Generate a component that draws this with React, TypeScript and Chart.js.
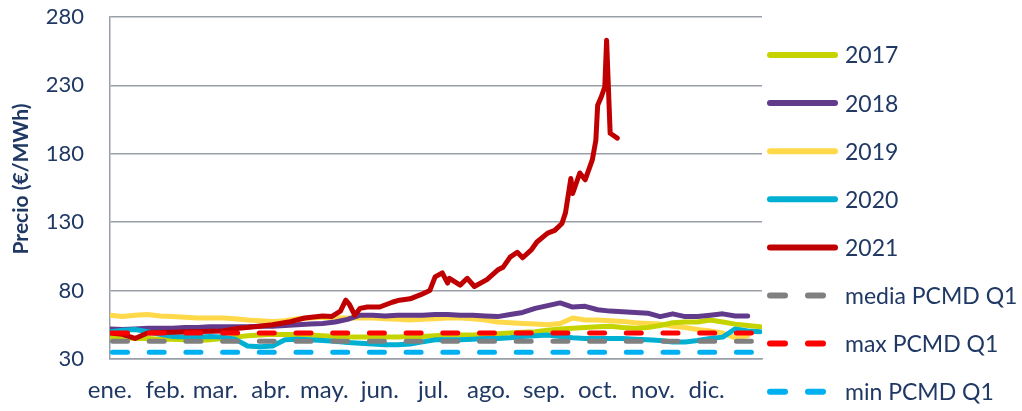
import React, { useEffect, useRef } from "react";
import { Chart, registerables } from "chart.js";

Chart.register(...registerables);

const monthStarts = [0, 31, 59, 90, 120, 151, 181, 212, 243, 273, 304, 334];
const monthLabels = ["ene.", "feb.", "mar.", "abr.", "may.", "jun.", "jul.", "ago.", "sep.", "oct.", "nov.", "dic."];
const yTicks = [30, 80, 130, 180, 230, 280];
const yTitle = "Precio (€/MWh)";

const weekDays = [0, 7, 14, 21, 28, 35, 42, 49, 56, 63, 70, 77, 84, 91, 98, 105, 112, 119, 126, 133, 140, 147, 154, 161, 168, 175, 182, 189, 196, 203, 210, 217, 224, 231, 238, 245, 252, 259, 266, 273, 280, 287, 294, 301, 308, 315, 322, 329, 336, 343, 350, 357, 364];

const s2017 = [46, 45.5, 45, 45, 44.5, 44.5, 44, 43.5, 44, 45, 46, 47, 47.5, 48, 48, 48, 47.5, 47, 46.5, 46, 46, 46, 46, 46, 46.5, 46.5, 47, 47.5, 47.5, 47.5, 48, 48.5, 49, 49.5, 50, 51, 52, 52.5, 53, 53.5, 54, 53, 52.5, 53, 54.5, 56.5, 57, 57, 58.5, 57, 55.5, 54.5, 53.5];
const s2018 = [52, 51.5, 52, 52.5, 52.5, 52.5, 53, 53, 53.5, 53.5, 53.5, 53.5, 54, 54, 54.5, 55, 55.5, 56, 57, 59, 62, 62, 61.5, 62, 62, 62, 62.5, 62.5, 62, 62, 61.5, 61, 62.5, 64, 67, 69, 71, 68, 68.5, 66, 65, 64.5, 64, 63.5, 61, 63, 61, 61, 62, 63, 61.5, 61.5, null];
const s2019 = [62, 61, 62, 62.5, 61.5, 61, 60.5, 60, 60, 60, 59.5, 58.5, 58, 57.5, 58, 59.5, 60, 60.5, 60, 60, 60, 60, 59.5, 59, 58.5, 59, 59.5, 60, 60, 59.5, 58.5, 57, 56.5, 56, 55.5, 55, 56, 60, 58.5, 58.5, 58, 57.5, 56.5, 56, 55.5, 54, 53, 51.5, 50.5, 49, 45.5, 47, null];
const s2020 = [50, 51, 51.5, 50, 48, 46.5, 46, 46, 46.5, 46, 44.5, 39.5, 39, 39.5, 44, 44.5, 44, 43.5, 43, 42, 41.5, 41, 40.5, 40.5, 41, 42.5, 44, 44, 44, 44.5, 45, 45, 45.5, 46.5, 47, 47.5, 46.5, 45.5, 45, 45, 45, 45, 44.5, 44, 43.5, 42.5, 42.5, 43.5, 45, 46, 52, 50.5, 50];

const days2021 = [0, 7, 14, 21, 44, 63, 72, 81, 91, 100, 109, 119, 124, 129, 132, 134, 137, 140, 144, 151, 158, 162, 168, 174, 179, 182, 186, 189, 190, 196, 200, 204, 211, 217, 220, 224, 228, 231, 236, 239, 245, 249, 253, 255, 258, 259, 263, 266, 270, 272, 273, 275, 277, 278, 280, 284];
const s2021 = [49, 48, 45, 49, 50, 50.5, 52.5, 53.5, 55, 57, 60, 61.5, 61, 65, 73, 70, 62, 67, 68, 68, 71.5, 73, 74, 77, 80, 90, 93, 85.5, 89, 84, 89, 83, 88, 95, 97, 104.5, 108, 104, 110, 115.5, 122, 124, 129, 137, 162, 151, 166, 161, 175.5, 190, 215.5, 221.5, 229, 263, 195, 191.5];

const refDays = [0, 365];
const mediaQ1 = [43, 43];
const maxQ1 = [49, 49];
const minQ1 = [35, 35];

const navy = "#1F3864";
const gridColor = "#9A9FA7";

const toPoints = (xs: number[], ys: (number | null)[]) => xs.map((x, i) => ({ x, y: ys[i] }));

const overlayPlugin = {
  id: "overlay",
  afterDraw(chart: any) {
    const ctx = chart.ctx as CanvasRenderingContext2D;
    ctx.save();
    ctx.translate(21, 179);
    ctx.rotate(-Math.PI / 2);
    ctx.font = "bold 21px Lato";
    ctx.fillStyle = navy;
    ctx.textAlign = "center";
    ctx.textBaseline = "middle";
    ctx.fillText(yTitle, 0, 0);
    ctx.restore();

    chart.data.datasets.forEach((ds: any, i: number) => {
      const y = 55 + i * 48.1;
      ctx.save();
      ctx.strokeStyle = ds.borderColor;
      ctx.lineWidth = 6;
      ctx.lineCap = "round";
      ctx.setLineDash(ds.borderDash ? [15, 23] : []);
      ctx.beginPath();
      ctx.moveTo(770, y);
      ctx.lineTo(835, y);
      ctx.stroke();
      ctx.setLineDash([]);
      ctx.fillStyle = navy;
      ctx.font = "23px Lato";
      ctx.textAlign = "left";
      ctx.textBaseline = "middle";
      ctx.fillText(ds.label, 845, y + 1);
      ctx.restore();
    });
  },
};

export default function App() {
  const ref = useRef<HTMLCanvasElement | null>(null);

  useEffect(() => {
    if (!ref.current) return;
    const solid = (label: string, color: string, data: any, order: number) => ({
      label,
      data,
      borderColor: color,
      backgroundColor: color,
      borderWidth: 5,
      pointRadius: 0,
      tension: 0,
      fill: false,
      order,
      borderCapStyle: "round",
      borderJoinStyle: "round",
    });
    const dashed = (label: string, color: string, data: any) => ({
      label,
      data,
      borderColor: color,
      backgroundColor: color,
      borderWidth: 5,
      pointRadius: 0,
      fill: false,
      order: 0,
      borderDash: [15, 21.7],
      borderDashOffset: -2.5,
      borderCapStyle: "round",
    });

    const chart = new Chart(ref.current, {
      type: "line",
      data: {
        datasets: [
          solid("2017", "#C5D300", toPoints(weekDays, s2017), 4),
          solid("2018", "#613A8C", toPoints(weekDays, s2018), 3),
          solid("2019", "#FFD94A", toPoints(weekDays, s2019), 5),
          solid("2020", "#00B0D2", toPoints(weekDays, s2020), 2),
          solid("2021", "#C00000", toPoints(days2021, s2021), 1),
          dashed("media PCMD Q1", "#808080", toPoints(refDays, mediaQ1)),
          dashed("max PCMD Q1", "#FF0000", toPoints(refDays, maxQ1)),
          dashed("min PCMD Q1", "#00B0F0", toPoints(refDays, minQ1)),
        ] as any,
      },
      options: {
        responsive: false,
        animation: false,
        layout: { autoPadding: false, padding: { top: 17, right: 260, left: 0, bottom: 0 } },
        plugins: { legend: { display: false }, tooltip: { enabled: false } },
        scales: {
          x: {
            type: "linear",
            min: 0,
            max: 365,
            afterBuildTicks: (s: any) => {
              s.ticks = monthStarts.map((v) => ({ value: v }));
            },
            afterFit: (s: any) => {
              s.height = 52;
              s.paddingLeft = 0;
              s.paddingRight = 0;
            },
            grid: { display: false, drawTicks: false },
            border: { display: true, color: gridColor, width: 1.5 },
            ticks: {
              autoSkip: false,
              maxRotation: 0,
              padding: 17,
              color: navy,
              font: { family: "Lato", size: 24 },
              callback: (v: any) => {
                const i = monthStarts.indexOf(Number(v));
                return i >= 0 ? monthLabels[i] : "";
              },
            },
          },
          y: {
            min: 30,
            max: 280,
            afterBuildTicks: (s: any) => {
              s.ticks = yTicks.map((v) => ({ value: v }));
            },
            afterFit: (s: any) => {
              s.width = 110;
              s.paddingTop = 0;
              s.paddingBottom = 0;
            },
            grid: { color: gridColor, lineWidth: 1.5, drawTicks: false },
            border: { display: true, color: gridColor, width: 1.5 },
            ticks: { padding: 26, color: navy, font: { family: "Lato", size: 22 } },
          },
        },
      } as any,
      plugins: [overlayPlugin],
    });
    return () => chart.destroy();
  }, []);

  return (
    <div style={{ position: "fixed", left: 0, top: 0, width: 1022, height: 411, background: "#fff" }}>
      <canvas ref={ref} width={1022} height={411} style={{ width: 1022, height: 411 }} />
    </div>
  );
}
